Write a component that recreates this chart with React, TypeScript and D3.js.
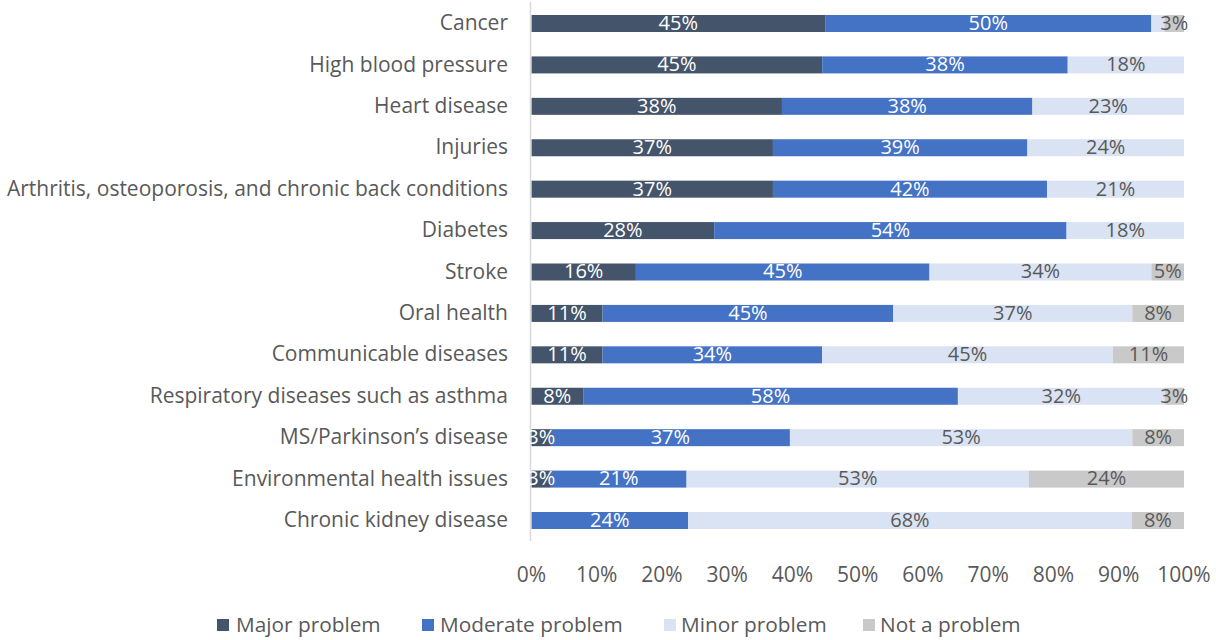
import React from "react";
import * as d3 from "d3";

const categories = [
  "Cancer",
  "High blood pressure",
  "Heart disease",
  "Injuries",
  "Arthritis, osteoporosis, and chronic back conditions",
  "Diabetes",
  "Stroke",
  "Oral health",
  "Communicable diseases",
  "Respiratory diseases such as asthma",
  "MS/Parkinson\u2019s disease",
  "Environmental health issues",
  "Chronic kidney disease",
];

const seriesNames = ["Major problem", "Moderate problem", "Minor problem", "Not a problem"];
const major = [45, 45, 38, 37, 37, 28, 16, 11, 11, 8, 3, 3, 0];
const moderate = [50, 38, 38, 39, 42, 54, 45, 45, 34, 58, 37, 21, 24];
const minor = [2, 18, 23, 24, 21, 18, 34, 37, 45, 32, 53, 53, 68];
const notProblem = [3, 0, 0, 0, 0, 0, 5, 8, 11, 3, 8, 24, 8];
const tickValues = [0, 0.1, 0.2, 0.3, 0.4, 0.5, 0.6, 0.7, 0.8, 0.9, 1];

const colors = ["#44546a", "#4472c4", "#dae3f3", "#c9c9c9"];
const labelColors = ["#ffffff", "#ffffff", "#595959", "#595959"];
const FONT = "'Open Sans', Lato, sans-serif";

export default function App() {
  const W = 1216;
  const H = 640;
  const x = d3.scaleLinear().domain([0, 1]).range([531.5, 1184]);
  const y = d3.scalePoint<string>().domain(categories).range([23.5, 520.5]);
  const barH = 17;
  const series = [major, moderate, minor, notProblem];

  const rows = categories.map((c, i) => {
    const vals = series.map((s) => s[i]);
    const total = d3.sum(vals);
    let acc = 0;
    return vals.map((v, k) => {
      const x0 = acc / total;
      acc += v;
      const x1 = acc / total;
      return { cat: c, v, k, x0, x1 };
    });
  });

  const legendItems = [
    { sx: 217, tx: 236 },
    { sx: 422, tx: 440 },
    { sx: 664, tx: 681 },
    { sx: 863, tx: 880 },
  ];

  return (
    <svg
      width={W}
      height={H}
      style={{ position: "absolute", left: 0, top: 0, background: "#fff" }}
      fontFamily={FONT}
    >
      {rows.map((segs, i) =>
        segs
          .filter((s) => s.v > 0)
          .map((s) => (
            <rect
              key={`${i}-${s.k}`}
              x={x(s.x0)}
              y={(y(s.cat) as number) - barH / 2}
              width={x(s.x1) - x(s.x0)}
              height={barH}
              fill={colors[s.k]}
            />
          ))
      )}
      <line x1={530.5} x2={530.5} y1={2} y2={541} stroke="#d9d9d9" strokeWidth={1.5} />
      {rows.map((segs, i) =>
        segs
          .filter((s) => s.v > 2)
          .map((s) => (
            <text
              key={`l${i}-${s.k}`}
              x={(x(s.x0) + x(s.x1)) / 2}
              y={(y(s.cat) as number) + 1}
              textAnchor="middle"
              dominantBaseline="middle"
              fontSize={20}
              fill={labelColors[s.k]}
            >
              {s.v}%
            </text>
          ))
      )}
      {categories.map((c) => (
        <text
          key={c}
          x={508}
          y={(y(c) as number) + 1}
          textAnchor="end"
          dominantBaseline="middle"
          fontSize={21}
          fill="#595959"
        >
          {c}
        </text>
      ))}
      {tickValues.map((t) => (
        <text
          key={t}
          x={x(t)}
          y={576}
          textAnchor="middle"
          dominantBaseline="middle"
          fontSize={21}
          fill="#595959"
        >
          {d3.format(".0%")(t)}
        </text>
      ))}
      {seriesNames.map((n, k) => (
        <g key={n}>
          <rect x={legendItems[k].sx} y={619} width={12} height={12} fill={colors[k]} />
          <text
            x={legendItems[k].tx}
            y={626}
            dominantBaseline="middle"
            fontSize={20.8}
            fill="#595959"
          >
            {n}
          </text>
        </g>
      ))}
    </svg>
  );
}
